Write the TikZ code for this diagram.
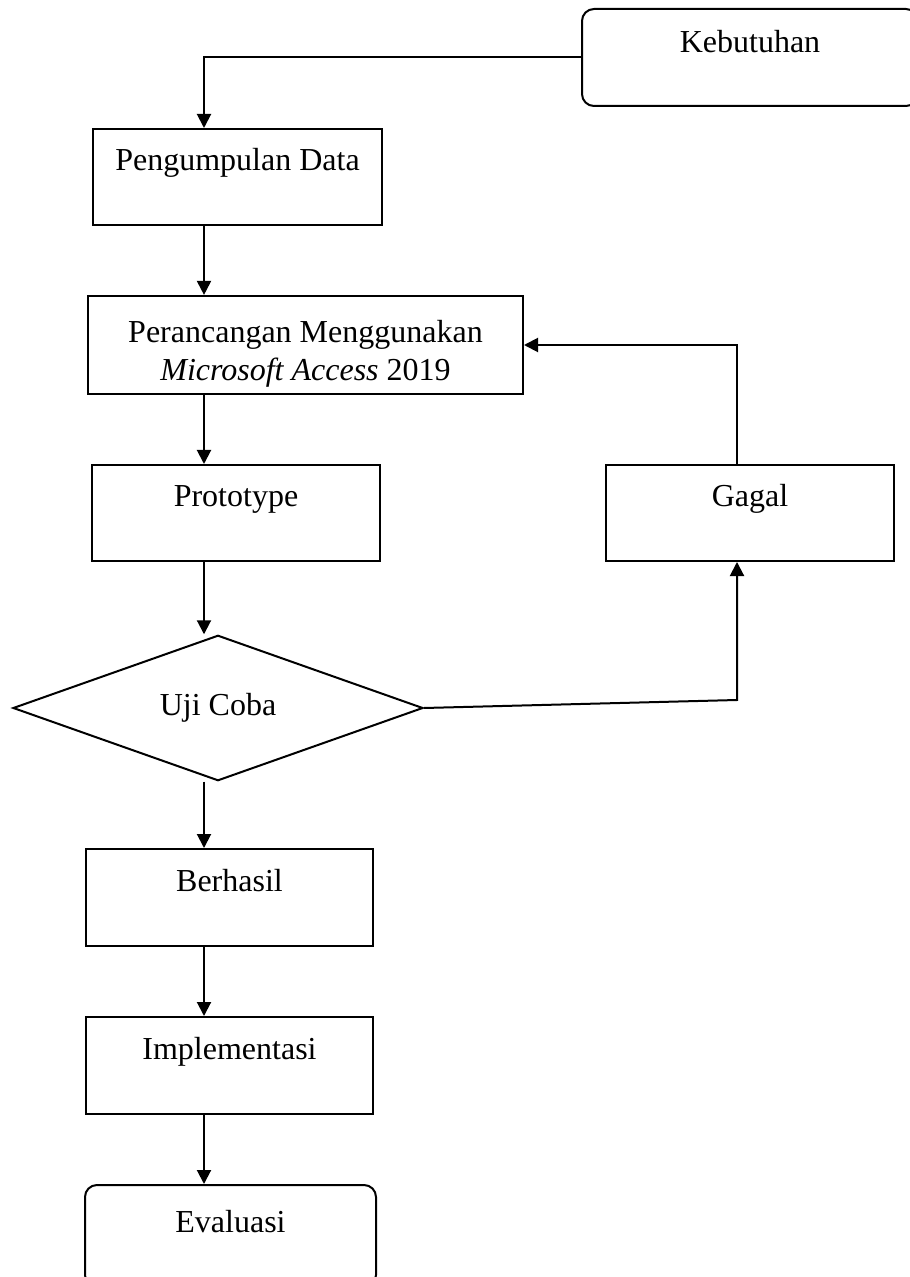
\documentclass[tikz,border=0pt]{standalone}
\usepackage{fontspec}
\setmainfont{Liberation Serif}
\usetikzlibrary{arrows.meta,shapes.geometric,calc}

\begin{document}
\begin{tikzpicture}[x=0.5pt,y=-0.5pt,
  font=\fontsize{16}{19}\selectfont,
  proc/.style={draw,line width=1pt,inner sep=0pt,minimum height=48pt,text height=12pt,text depth=18pt},
  term/.style={proc,rounded corners=6pt},
  decision/.style={draw,diamond,line width=1pt,inner sep=0pt,minimum width=205pt,minimum height=71.5pt},
  arr/.style={line width=1pt,-{Triangle[length=7pt,width=7pt]}}]
\useasboundingbox (0,0) rectangle (909,1277);
\coordinate (spine) at (204,0);
\coordinate (bend) at (737,700);
\node[term,minimum width=168pt,minimum height=48.5pt,text height=13.5pt] (keb) at (750,57.5) {Kebutuhan};
\node[proc,minimum width=144.5pt] (kumpul) at (237.5,177) {Pengumpulan Data};
\node[draw,line width=1pt,align=center,minimum width=217.5pt,minimum height=48pt] (rancang) at (305.5,345) {\rule{0pt}{20pt}Perancangan Menggunakan\\\textit{Microsoft Access} 2019};
\node[proc,minimum width=144pt] (proto) at (236,513) {Prototype};
\node[proc,minimum width=144pt] (gagal) at (750,513) {Gagal};
\node[decision] (uji) at (218,708) {Uji Coba};
\node[proc,minimum width=143.5pt,minimum height=48.5pt] (berhasil) at (229.5,897.5) {Berhasil};
\node[proc,minimum width=143.5pt,minimum height=48.5pt] (impl) at (229.5,1065.5) {Implementasi};
\node[term,minimum width=145.5pt,minimum height=51pt,text height=14pt] (eval) at (230.5,1236) {Evaluasi};
\draw[arr] (keb.west) -| (kumpul.north -| spine);
\draw[arr] (kumpul.south -| spine) -- (rancang.north -| spine);
\draw[arr] (rancang.south -| spine) -- (proto.north -| spine);
\draw[arr] (proto.south -| spine) -- (spine |- uji.north);
\draw[arr] (spine |- uji.south) -- (berhasil.north -| spine);
\draw[arr] (berhasil.south -| spine) -- (impl.north -| spine);
\draw[arr] (impl.south -| spine) -- (eval.north -| spine);
\draw[arr] (uji.east) -- (bend) -- (gagal.south -| bend);
\draw[arr] (gagal.north -| bend) |- (rancang.east);
\end{tikzpicture}
\end{document}
